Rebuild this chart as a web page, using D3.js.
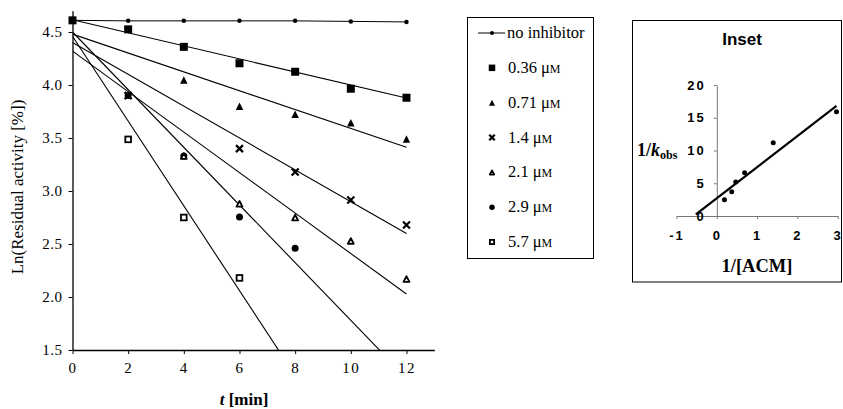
<!DOCTYPE html>
<html>
<head>
<meta charset="utf-8">
<script src="https://cdn.jsdelivr.net/npm/d3@7"></script>
<style>
  body { margin: 0; background: #fff; }
  svg { display: block; }
</style>
</head>
<body>
<div id="chart"></div>
<script>
const SERIF = '"Liberation Serif", "Times New Roman", serif';
const SANS = '"Liberation Sans", Arial, sans-serif';

// main plot data: t [min] vs Ln(residual activity)
const times = [0, 2, 4, 6, 8, 10, 12];
const noInhibitor = [4.61, 4.605, 4.605, 4.605, 4.605, 4.60, 4.595];

const seriesNames = ['0.36', '0.71', '1.4', '2.1', '2.9', '5.7'];
const seriesT = [
  [0, 2, 4, 6, 8, 10, 12],
  [4, 6, 8, 10, 12],
  [2, 6, 8, 10, 12],
  [4, 6, 8, 10, 12],
  [2, 4, 6, 8],
  [2, 4, 6]
];
const seriesY = [
  [4.61, 4.525, 4.36, 4.205, 4.125, 3.965, 3.88],
  [4.047, 3.80, 3.725, 3.645, 3.49],
  [3.90, 3.40, 3.18, 2.915, 2.68],
  [3.33, 2.88, 2.75, 2.53, 2.17],
  [3.90, 3.33, 2.755, 2.46],
  [3.487, 2.75, 2.18]
];
const symbols = ['fsquare', 'ftri', 'cross', 'otri', 'circle', 'osquare'];
// fitted lines: intercept and slope
const fitIntercept = [4.615, 4.48, 4.40, 4.32, 4.50, 4.46];
const fitSlope = [-0.0615, -0.089, -0.150, -0.191, -0.272, -0.40];

const xTicks = [0, 2, 4, 6, 8, 10, 12];
const yTicks = [1.5, 2.0, 2.5, 3.0, 3.5, 4.0, 4.5];

// inset: 1/[ACM] vs 1/kobs
const insetX = [0.19, 0.37, 0.47, 0.69, 1.40, 2.97];
const insetY = [2.5, 3.7, 5.2, 6.6, 11.2, 15.9];
const insetFit = { intercept: 2.7, slope: 4.75, from: -0.52, to: 2.97 };
const insetXTicks = [-1, 0, 1, 2, 3];
const insetYTicks = [0, 5, 10, 15, 20];

const width = 843, height = 409;

const svg = d3.select('#chart').append('svg')
  .attr('width', width)
  .attr('height', height);

// ---------- main plot ----------
const x = d3.scaleLinear().domain([0, 13]).range([72.5, 434.3]);
const y = d3.scaleLinear().domain([1.5, 4.7]).range([350, 10.8]);

svg.append('defs').append('clipPath').attr('id', 'plotClip')
  .append('rect')
  .attr('x', x(0)).attr('y', y(4.7))
  .attr('width', x(13) - x(0)).attr('height', y(1.5) - y(4.7));

const xAxis = svg.append('g')
  .attr('transform', `translate(0,${y(1.5)})`)
  .call(d3.axisBottom(x).tickValues(xTicks).tickSize(4).tickSizeOuter(0).tickPadding(8));
xAxis.selectAll('text').style('font-family', SERIF).style('font-size', '15px')
  .style('letter-spacing', '1.5px').attr('fill', '#000');

const yAxis = svg.append('g')
  .attr('transform', `translate(${x(0)},0)`)
  .call(d3.axisLeft(y).tickValues(yTicks).tickSize(4).tickSizeOuter(0).tickPadding(6)
    .tickFormat(d3.format('.1f')));
yAxis.selectAll('text').style('font-family', SERIF).style('font-size', '15px')
  .style('letter-spacing', '0.5px').attr('fill', '#000');

svg.selectAll('.domain').attr('stroke', '#000').attr('stroke-width', 1.3);

// axis titles
svg.append('text')
  .attr('transform', `translate(23,187) rotate(-90)`)
  .attr('text-anchor', 'middle')
  .style('font-family', SERIF)
  .style('font-size', '17px')
  .text('Ln(Residual activity [%])');

const xt = svg.append('text')
  .attr('x', 244).attr('y', 405)
  .attr('text-anchor', 'middle')
  .style('font-family', SERIF)
  .style('font-size', '17px').style('font-weight', 'bold');
xt.append('tspan').style('font-style', 'italic').text('t');
xt.append('tspan').text(' [min]');

const plot = svg.append('g').attr('clip-path', 'url(#plotClip)');

// no inhibitor line
const lineGen = d3.line().x(d => x(d[0])).y(d => y(d[1]));
plot.append('path')
  .datum(times.map((t, i) => [t, noInhibitor[i]]))
  .attr('fill', 'none').attr('stroke', '#000').attr('stroke-width', 1)
  .attr('d', lineGen);

// fitted lines
seriesNames.forEach((n, i) => {
  plot.append('path')
    .datum([0, 12].map(t => [t, fitIntercept[i] + fitSlope[i] * t]))
    .attr('fill', 'none').attr('stroke', '#000').attr('stroke-width', 1.1)
    .attr('d', lineGen);
});

function drawSymbol(g, kind, cx, cy, s) {
  const h = s / 2;
  if (kind === 'dot') {
    g.append('circle').attr('cx', cx).attr('cy', cy).attr('r', s / 2).attr('fill', '#000');
  } else if (kind === 'fsquare') {
    g.append('rect').attr('x', cx - h).attr('y', cy - h).attr('width', s).attr('height', s).attr('fill', '#000');
  } else if (kind === 'osquare') {
    g.append('rect').attr('x', cx - h + 0.9).attr('y', cy - h + 0.9).attr('width', s - 1.8).attr('height', s - 1.8)
      .attr('fill', '#fff').attr('stroke', '#000').attr('stroke-width', 1.8);
  } else if (kind === 'ftri') {
    g.append('path').attr('d', `M${cx},${cy - h}L${cx + h},${cy + h}L${cx - h},${cy + h}Z`).attr('fill', '#000');
  } else if (kind === 'otri') {
    g.append('path').attr('d', `M${cx},${cy - h + 1}L${cx + h - 0.8},${cy + h - 0.8}L${cx - h + 0.8},${cy + h - 0.8}Z`)
      .attr('fill', '#fff').attr('stroke', '#000').attr('stroke-width', 1.8).attr('stroke-linejoin', 'round');
  } else if (kind === 'cross') {
    g.append('path').attr('d', `M${cx - h},${cy - h}L${cx + h},${cy + h}M${cx + h},${cy - h}L${cx - h},${cy + h}`)
      .attr('stroke', '#000').attr('stroke-width', 2.2);
  } else if (kind === 'circle') {
    g.append('circle').attr('cx', cx).attr('cy', cy).attr('r', h).attr('fill', '#000');
  }
}
const symSize = { fsquare: 8, ftri: 7.5, cross: 7, otri: 7.5, circle: 7, osquare: 7.5, dot: 4.5 };

const marks = svg.append('g');
times.forEach((t, i) => drawSymbol(marks, 'dot', x(t), y(noInhibitor[i]), symSize.dot));
// draw later series first so the 0.36 squares sit on top at t = 0
[5, 4, 3, 2, 1, 0].forEach(i => {
  seriesT[i].forEach((t, j) => drawSymbol(marks, symbols[i], x(t), y(seriesY[i][j]), symSize[symbols[i]]));
});

// ---------- legend ----------
const leg = svg.append('g');
leg.append('rect').attr('x', 467.5).attr('y', 17.5).attr('width', 126).attr('height', 241)
  .attr('fill', '#fff').attr('stroke', '#000').attr('stroke-width', 1);
const legY = d3.scalePoint().domain(d3.range(7)).range([33, 242]);
leg.append('line').attr('x1', 478).attr('x2', 505).attr('y1', legY(0)).attr('y2', legY(0))
  .attr('stroke', '#000').attr('stroke-width', 1);
drawSymbol(leg, 'dot', 492, legY(0), 4);
leg.append('text').attr('x', 507).attr('y', legY(0) + 5)
  .style('font-family', SERIF).style('font-size', '16.5px').text('no inhibitor');
seriesNames.forEach((n, i) => {
  const yy = legY(i + 1);
  drawSymbol(leg, symbols[i], 492, yy, symSize[symbols[i]] - 1.5);
  const t = leg.append('text').attr('x', 508).attr('y', yy + 5)
    .style('font-family', SERIF).style('font-size', '16.5px');
  t.append('tspan').text(n + ' \u03bc');
  t.append('tspan').style('font-size', '12px').text('M');
});

// ---------- inset ----------
const ins = svg.append('g');
ins.append('rect').attr('x', 632.5).attr('y', 20.5).attr('width', 209).attr('height', 261.5)
  .attr('fill', '#fff').attr('stroke', '#000').attr('stroke-width', 1);
ins.append('text').attr('x', 742).attr('y', 45)
  .attr('text-anchor', 'middle')
  .style('font-family', SANS).style('font-size', '17px').style('font-weight', 'bold').text('Inset');

const ix = d3.scaleLinear().domain([-1, 3]).range([676.5, 837.7]);
const iy = d3.scaleLinear().domain([0, 20]).range([216, 85]);

const ixAxis = ins.append('g').attr('transform', `translate(0,${iy(0)})`)
  .call(d3.axisBottom(ix).tickValues(insetXTicks).tickSize(3).tickSizeOuter(0).tickPadding(12));
ixAxis.select('.domain').attr('stroke', '#777');
ixAxis.selectAll('line').attr('stroke', '#777');
ixAxis.selectAll('text').style('font-family', SANS).style('font-size', '13px').style('font-weight', 'bold')
  .style('letter-spacing', '2px').attr('fill', '#000').text(d => d < 0 ? '-' + Math.abs(d) : d);

const iyAxis = ins.append('g').attr('transform', `translate(${ix(0)},0)`)
  .call(d3.axisLeft(iy).tickValues(insetYTicks).tickSize(3).tickSizeOuter(0).tickPadding(8));
iyAxis.select('.domain').attr('stroke', '#777');
iyAxis.selectAll('line').attr('stroke', '#777');
iyAxis.selectAll('text').style('font-family', SANS).style('font-size', '13px').style('font-weight', 'bold')
  .style('letter-spacing', '2px').attr('fill', '#000');

ins.append('path')
  .datum([insetFit.from, insetFit.to].map(v => [v, insetFit.intercept + insetFit.slope * v]))
  .attr('fill', 'none').attr('stroke', '#000').attr('stroke-width', 2.2)
  .attr('d', d3.line().x(d => ix(d[0])).y(d => iy(d[1])));

insetX.forEach((v, i) => {
  ins.append('circle').attr('cx', ix(v)).attr('cy', iy(insetY[i])).attr('r', 2.5).attr('fill', '#000');
});

const kl = ins.append('text').attr('x', 637).attr('y', iy(10) + 5)
  .style('font-family', SERIF).style('font-size', '18px').style('font-weight', 'bold');
kl.append('tspan').text('1/');
kl.append('tspan').style('font-style', 'italic').text('k');
kl.append('tspan').attr('dy', 3).style('font-size', '12px').text('obs');

ins.append('text').attr('x', 757).attr('y', 272)
  .attr('text-anchor', 'middle')
  .style('font-family', SERIF).style('font-size', '18.5px').style('font-weight', 'bold').text('1/[ACM]');
</script>
</body>
</html>
